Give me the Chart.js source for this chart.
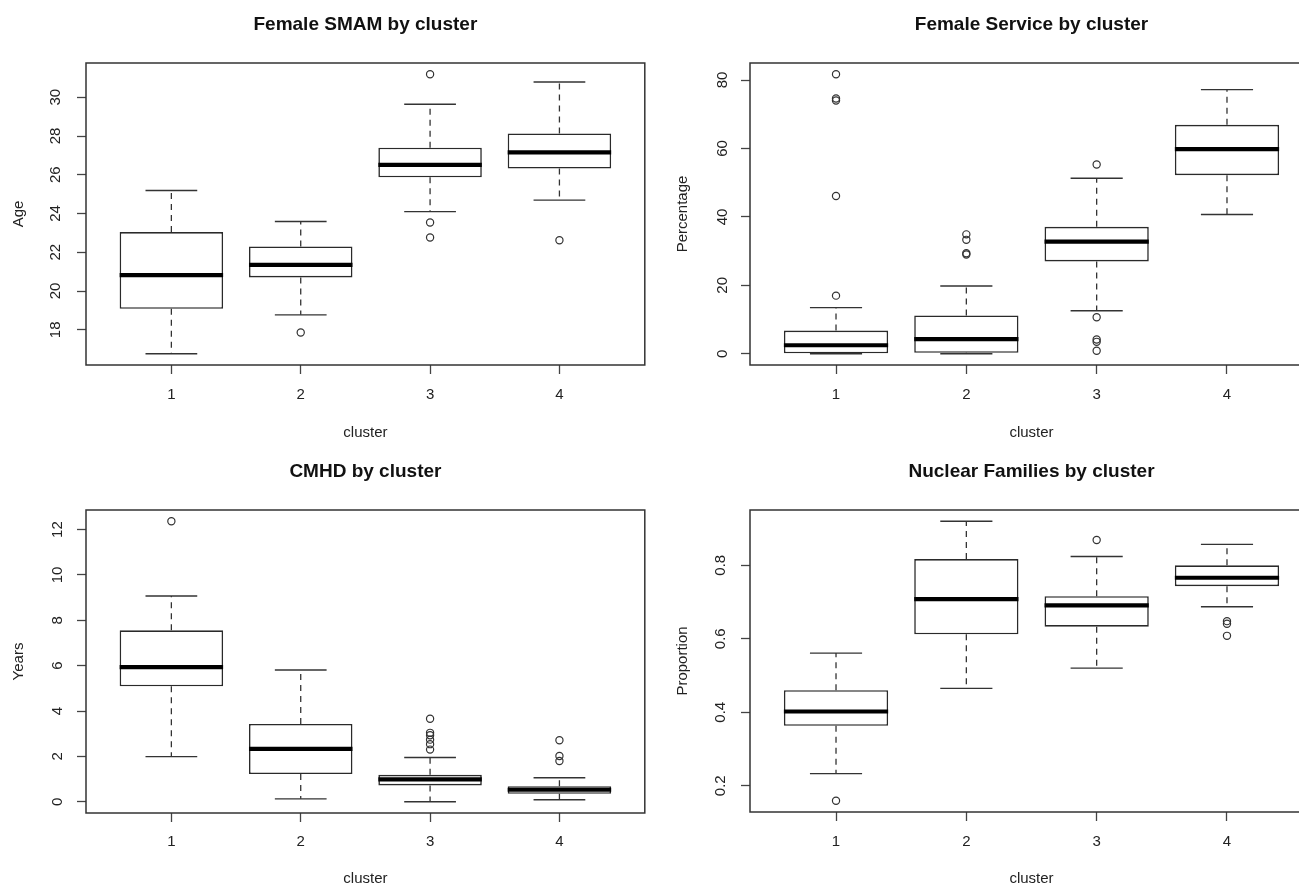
<!DOCTYPE html>
<html>
<head>
<meta charset="utf-8">
<script src="https://cdn.jsdelivr.net/npm/chart.js@4.4.1/dist/chart.umd.min.js"></script>
<style>
  html, body { margin:0; padding:0; background:#fff; overflow:hidden; width:1299px; height:885px; }
  .panel { position:absolute; }
</style>
</head>
<body>
<div class="panel" style="left:0;top:0"><canvas id="c1" width="650" height="442"></canvas></div>
<div class="panel" style="left:650px;top:0"><canvas id="c2" width="680" height="442"></canvas></div>
<div class="panel" style="left:0;top:442px"><canvas id="c3" width="650" height="450"></canvas></div>
<div class="panel" style="left:650px;top:442px"><canvas id="c4" width="680" height="450"></canvas></div>
<script>
// ---------------- DATA ----------------
const clusters = [1, 2, 3, 4];
const xTickLabels = ['1', '2', '3', '4'];
const xAxisLabel = 'cluster';

// Panel 1: Female SMAM
const smamTitle = 'Female SMAM by cluster';
const smamYLabel = 'Age';
const smamYTicks = [18, 20, 22, 24, 26, 28, 30];
const smamLow    = [16.76, 18.77, 24.10, 24.69];
const smamQ1     = [19.08, 20.70, 25.87, 26.32];
const smamMedian = [20.82, 21.35, 26.51, 27.15];
const smamQ3     = [23.04, 22.30, 27.40, 28.13];
const smamHigh   = [25.19, 23.59, 29.64, 30.79];
const smamOutX   = [2, 3, 3, 3, 4];
const smamOutY   = [17.86, 31.19, 23.54, 22.76, 22.62];

// Panel 2: Female Service
const servTitle = 'Female Service by cluster';
const servYLabel = 'Percentage';
const servYTicks = [0, 20, 40, 60, 80];
const servLow    = [0.0, 0.0, 12.6, 40.7];
const servQ1     = [0.0, 0.3, 27.0, 52.2];
const servMedian = [2.5, 4.3, 32.8, 59.8];
const servQ3     = [6.8, 11.2, 37.1, 66.9];
const servHigh   = [13.5, 19.8, 51.3, 77.2];
const servOutX   = [1, 1, 1, 1, 1, 2, 2, 2, 2, 3, 3, 3, 3, 3];
const servOutY   = [17.0, 46.1, 74.0, 74.6, 81.7, 29.0, 29.4, 33.3, 34.9, 55.3, 10.7, 4.2, 3.5, 0.9];

// Panel 3: CMHD
const cmhdTitle = 'CMHD by cluster';
const cmhdYLabel = 'Years';
const cmhdYTicks = [0, 2, 4, 6, 8, 10, 12];
const cmhdLow    = [1.99, 0.13, 0.00, 0.09];
const cmhdQ1     = [5.09, 1.22, 0.72, 0.35];
const cmhdMedian = [5.94, 2.33, 0.99, 0.53];
const cmhdQ3     = [7.56, 3.43, 1.19, 0.69];
const cmhdHigh   = [9.07, 5.81, 1.95, 1.06];
const cmhdOutX   = [1, 3, 3, 3, 3, 3, 3, 4, 4, 4];
const cmhdOutY   = [12.37, 3.66, 3.04, 2.93, 2.74, 2.54, 2.30, 2.71, 2.02, 1.80];

// Panel 4: Nuclear Families
const nucTitle = 'Nuclear Families by cluster';
const nucYLabel = 'Proportion';
const nucYTicks = [0.2, 0.4, 0.6, 0.8];
const nucLow    = [0.233, 0.465, 0.520, 0.687];
const nucQ1     = [0.363, 0.612, 0.633, 0.743];
const nucMedian = [0.402, 0.708, 0.691, 0.766];
const nucQ3     = [0.460, 0.817, 0.716, 0.800];
const nucHigh   = [0.561, 0.920, 0.824, 0.857];
const nucOutX   = [1, 3, 4, 4, 4];
const nucOutY   = [0.159, 0.869, 0.648, 0.641, 0.608];

// ---------------- RENDERING ----------------
const FONT = '"Liberation Sans", Arial, Helvetica, sans-serif';
const INK = '#222';

function halfWidth(units) {
  return ctx => {
    const s = ctx.chart.scales.x;
    return Math.abs(s.getPixelForValue(units) - s.getPixelForValue(0));
  };
}

function yRange(low, high, outY) {
  const all = low.concat(high, outY);
  const mn = Math.min(...all), mx = Math.max(...all);
  const ext = (mx - mn) * 0.04;
  return [mn - ext, mx + ext];
}

const framePlugin = {
  id: 'frame',
  afterDatasetsDraw(chart) {
    const a = chart.chartArea, c = chart.ctx;
    c.save();
    c.strokeStyle = '#333';
    c.lineWidth = 1.5;
    c.strokeRect(a.left, a.top, a.right - a.left, a.bottom - a.top);
    c.restore();
  }
};

function makePanel(id, d, L) {
  const canvas = document.getElementById(id);
  const H = canvas.height, W = canvas.width;
  const [ymin, ymax] = yRange(d.low, d.high, d.outY);

  const whiskerPts = [];
  clusters.forEach((c, i) => {
    whiskerPts.push({x: c, y: d.q3[i]}, {x: c, y: d.high[i]}, {x: c, y: null});
    whiskerPts.push({x: c, y: d.q1[i]}, {x: c, y: d.low[i]}, {x: c, y: null});
  });
  const staplePts = [];
  clusters.forEach((c, i) => {
    staplePts.push({x: c, y: d.high[i]}, {x: c, y: d.low[i]});
  });

  new Chart(canvas, {
    type: 'bar',
    data: {
      datasets: [
        {
          type: 'scatter', label: 'Median',
          data: clusters.map((c, i) => ({x: c, y: d.median[i]})),
          pointStyle: 'line', pointRadius: halfWidth(0.4), pointBorderWidth: 4.2,
          pointBorderColor: '#000', pointBackgroundColor: '#000', borderColor: '#000'
        },
        {
          type: 'bar', label: 'Box',
          data: clusters.map((c, i) => ({x: c, y: [d.q1[i], d.q3[i]]})),
          backgroundColor: '#fff', borderColor: '#2a2a2a', borderWidth: 1.6,
          borderSkipped: false, barPercentage: 0.8, categoryPercentage: 1.0
        },
        {
          type: 'line', label: 'Whiskers',
          data: whiskerPts, spanGaps: false, fill: false, tension: 0,
          borderColor: '#333', borderWidth: 1.3, borderDash: [6, 5], pointRadius: 0
        },
        {
          type: 'scatter', label: 'Staples',
          data: staplePts,
          pointStyle: 'line', pointRadius: halfWidth(0.2), pointBorderWidth: 1.4,
          pointBorderColor: '#333', borderColor: '#333'
        },
        {
          type: 'scatter', label: 'Outliers',
          data: d.outX.map((x, i) => ({x: x, y: d.outY[i]})),
          pointStyle: 'circle', pointRadius: 3.6, pointBorderWidth: 1.2,
          pointBorderColor: '#333', pointBackgroundColor: 'rgba(255,255,255,0)'
        }
      ]
    },
    options: {
      responsive: false,
      animation: false,
      devicePixelRatio: 1,
      events: [],
      layout: { padding: { left: 0, right: W - L.right, top: 0, bottom: 0 } },
      plugins: {
        legend: { display: false },
        tooltip: { enabled: false },
        title: {
          display: true, text: d.title, fullSize: false, color: '#111',
          font: { family: FONT, size: 19, weight: 'bold', lineHeight: 1.2 },
          padding: { top: L.titleTop, bottom: L.top - 22.8 - L.titleTop }
        }
      },
      scales: {
        x: {
          type: 'linear', min: 0.34, max: 4.66, offset: false,
          afterBuildTicks: s => { s.ticks = clusters.map(v => ({value: v})); },
          afterFit: s => { s.height = H - L.bottom; },
          ticks: {
            autoSkip: false, maxRotation: 0, padding: L.xTickPad, color: INK,
            font: { family: FONT, size: 15 },
            callback: (v, i) => xTickLabels[i]
          },
          grid: { display: true, offset: false, drawOnChartArea: false, drawTicks: true, tickLength: 9, tickWidth: 1.3, tickColor: '#444' },
          border: { display: false },
          title: {
            display: true, text: xAxisLabel, color: INK,
            font: { family: FONT, size: 15, lineHeight: 1.2 },
            padding: { top: 0, bottom: L.xTitlePad }
          }
        },
        y: {
          type: 'linear', min: ymin, max: ymax,
          afterBuildTicks: s => { s.ticks = d.yTicks.map(v => ({value: v})); },
          afterFit: s => { s.width = L.left; },
          ticks: {
            autoSkip: false, minRotation: 90, maxRotation: 90, crossAlign: 'center',
            padding: L.yTickPad, color: INK, font: { family: FONT, size: 15 },
            callback: v => String(v)
          },
          grid: { display: true, drawOnChartArea: false, drawTicks: true, tickLength: 9, tickWidth: 1.3, tickColor: '#444' },
          border: { display: false },
          title: {
            display: true, text: d.yLabel, color: INK,
            font: { family: FONT, size: 15, lineHeight: 1.2 },
            padding: { top: L.yTitlePad, bottom: 0 }
          }
        }
      }
    },
    plugins: [framePlugin]
  });
}

makePanel('c1',
  { title: smamTitle, yLabel: smamYLabel, yTicks: smamYTicks, low: smamLow, q1: smamQ1, median: smamMedian, q3: smamQ3, high: smamHigh, outX: smamOutX, outY: smamOutY },
  { left: 86, right: 648, top: 63, bottom: 365, titleTop: 13.6, xTickPad: 12, xTitlePad: 0, yTickPad: 12.7, yTitlePad: 10 });
makePanel('c2',
  { title: servTitle, yLabel: servYLabel, yTicks: servYTicks, low: servLow, q1: servQ1, median: servMedian, q3: servQ3, high: servHigh, outX: servOutX, outY: servOutY },
  { left: 100, right: 663, top: 63, bottom: 365, titleTop: 13.6, xTickPad: 12, xTitlePad: 0, yTickPad: 9.7, yTitlePad: 24 });
makePanel('c3',
  { title: cmhdTitle, yLabel: cmhdYLabel, yTicks: cmhdYTicks, low: cmhdLow, q1: cmhdQ1, median: cmhdMedian, q3: cmhdQ3, high: cmhdHigh, outX: cmhdOutX, outY: cmhdOutY },
  { left: 86, right: 648, top: 68, bottom: 371, titleTop: 18.6, xTickPad: 11, xTitlePad: 4, yTickPad: 10.7, yTitlePad: 10 });
makePanel('c4',
  { title: nucTitle, yLabel: nucYLabel, yTicks: nucYTicks, low: nucLow, q1: nucQ1, median: nucMedian, q3: nucQ3, high: nucHigh, outX: nucOutX, outY: nucOutY },
  { left: 100, right: 663, top: 68, bottom: 370, titleTop: 18.6, xTickPad: 12, xTitlePad: 4, yTickPad: 9.6, yTitlePad: 24 });
</script>
</body>
</html>
